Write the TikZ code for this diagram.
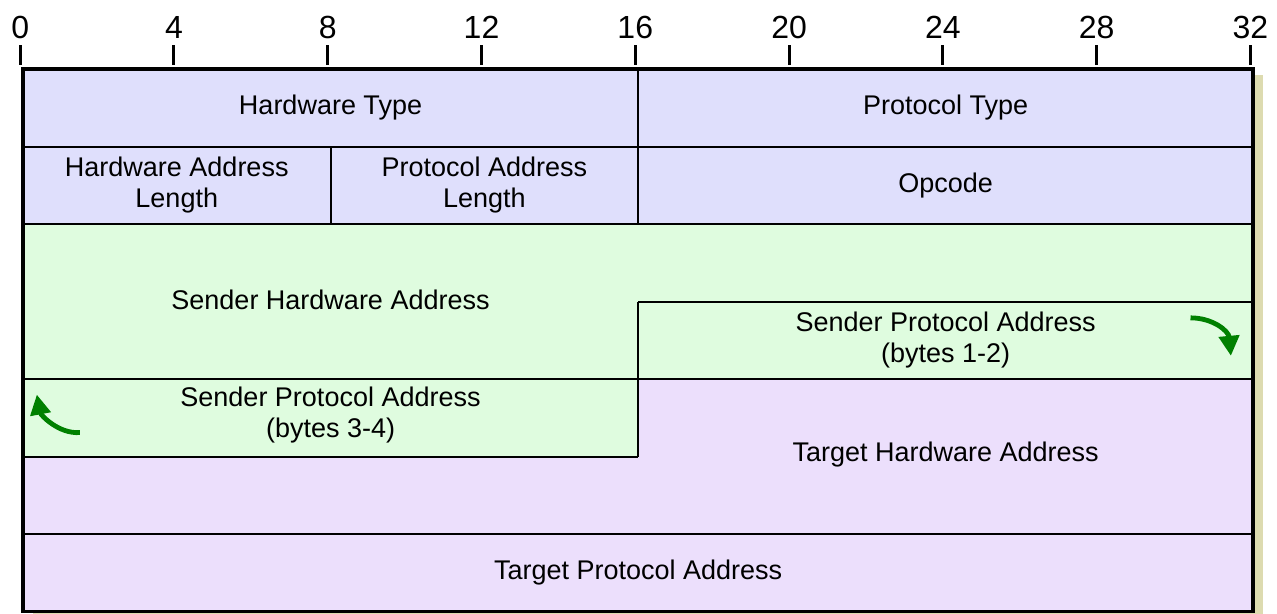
\documentclass[tikz,border=0pt]{standalone}
\usepackage{fontspec}
\setmainfont{Liberation Sans}
\usepackage{xcolor}
\usetikzlibrary{arrows.meta}

\definecolor{hdrblue}{RGB}{223,223,252}
\definecolor{sndgreen}{RGB}{223,252,223}
\definecolor{tgtpurple}{RGB}{236,223,252}
\definecolor{shadowtan}{RGB}{221,219,176}
\definecolor{turngreen}{RGB}{0,128,0}

\begin{document}
\begin{tikzpicture}[x=19.22pt, y=-38.75pt, font=\fontsize{13.5}{15.5}\selectfont,
    field/.style={align=center, inner sep=0pt},
    sep/.style={line width=1pt},
    turn/.style={turngreen, line width=2.4pt, -{Triangle[length=10pt,width=10pt]}}]
        \def\nbits{32}
        \def\nrows{7}
        
        \useasboundingbox (-0.598,-0.891) rectangle (32.62,7.03);
        
        % shadow and fills
        \fill[shadowtan, xshift=5pt, yshift=-3pt] (0,0) rectangle (\nbits,\nrows);
        \fill[hdrblue] (0,0) rectangle (32,2);
        \fill[sndgreen] (0,2) rectangle (32,4);
        \fill[sndgreen] (0,4) rectangle (16,5);
        \fill[tgtpurple] (16,4) rectangle (32,5);
        \fill[tgtpurple] (0,5) rectangle (32,7);
        
        % bit ruler
        \foreach \b in {0,4,...,32}{
            \draw[line width=1.5pt, xshift=-1.4pt] (\b,-0.31) -- (\b,-0.05);
            \node[font=\fontsize{16}{18}\selectfont, xshift=-1.4pt] (bit\b) at (\b,-0.54) {\b};
        }
        
        % field borders
        \draw[sep] (0,1) -- (32,1);
        \draw[sep] (16,0) -- (16,2);
        \draw[sep] (8,1) -- (8,2);
        \draw[sep] (0,2) -- (32,2);
        \draw[sep] (16,3) -- (32,3);
        \draw[sep] (16,3) -- (16,5);
        \draw[sep] (16,4) -- (32,4);
        \draw[line width=1.3pt] (0,4) -- (16,4);
        \draw[sep] (0,5) -- (16,5);
        \draw[sep] (0,6) -- (32,6);
        \draw[line width=1.75pt] (0,0) rectangle (\nbits,\nrows);
        
        % field names
        \node[field] (hwtype) at (8,0.5) {Hardware Type};
        \node[field] (prtype) at (24,0.5) {Protocol Type};
        \node[field] (hwlen) at (4,1.5) {Hardware Address\\Length};
        \node[field] (prlen) at (12,1.5) {Protocol Address\\Length};
        \node[field] (opcode) at (24,1.5) {Opcode};
        \node[field] (sha) at (8,2.98) {Sender Hardware Address};
        \node[field] (spaA) at (24,3.5) {Sender Protocol Address\\(bytes 1-2)};
        \node[field] (spaB) at (8,4.47) {Sender Protocol Address\\(bytes 3-4)};
        \node[field] (tha) at (24,4.97) {Target Hardware Address};
        \node[field] (tpa) at (16,6.5) {Target Protocol Address};
        
        % wrap-around arrows
        \coordinate (wrapA) at (30.37,3.21);
        \coordinate (wrapAend) at (31.42,3.70);
        \coordinate (wrapB) at (1.48,4.69);
        \coordinate (wrapBend) at (0.36,4.20);
        \draw[turn] (wrapA) .. controls (30.95,3.21) and (31.36,3.38) .. (wrapAend);
        \draw[turn] (wrapB) .. controls (0.92,4.71) and (0.46,4.46) .. (wrapBend);
        
    \end{tikzpicture}
\end{document}
